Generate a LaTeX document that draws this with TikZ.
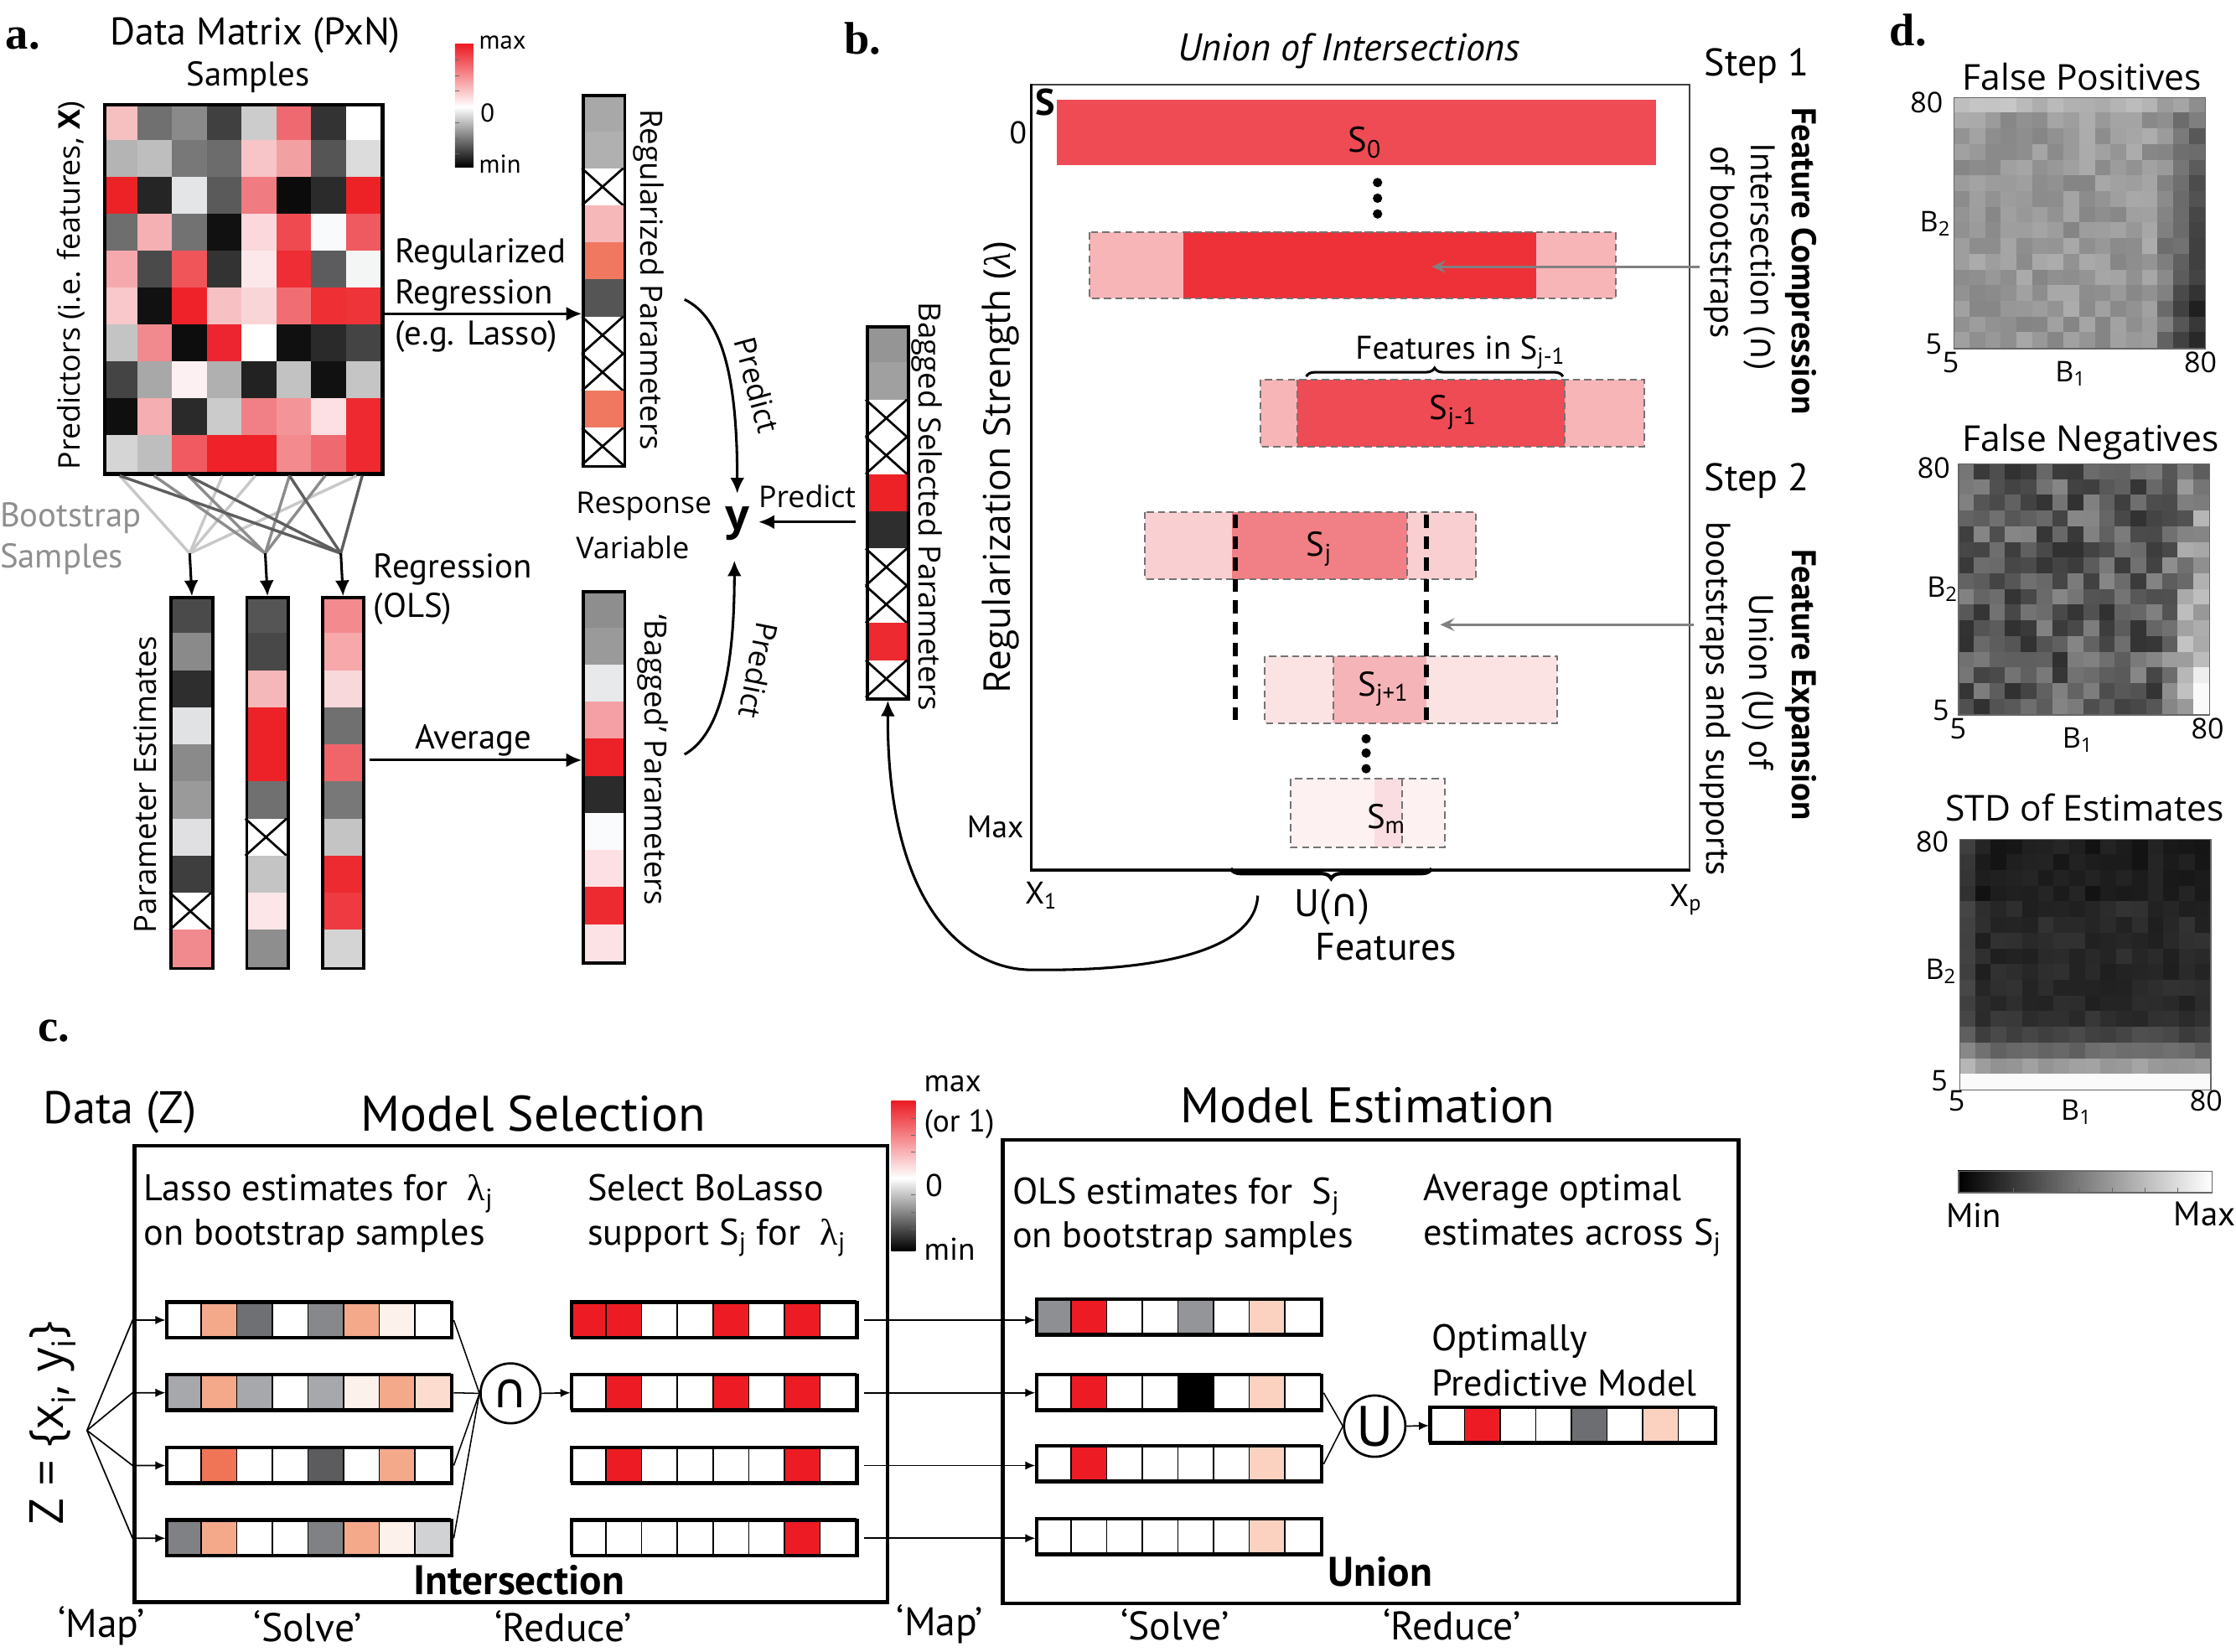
\documentclass[tikz,border=0pt]{standalone}
\usepackage{fontspec}
\setmainfont{PT Sans}
\newfontfamily\fw{Open Sans}
\newfontfamily\fser{Liberation Serif}
\newfontfamily\fdv{DejaVu Sans}
\usetikzlibrary{arrows.meta,decorations.pathreplacing,calc}
\newcommand\setfs[1]{\fontsize{#1}{#1}\selectfont}
\def\xmk{X}
\newcommand\vcol[5]{%
  \foreach \cl [count=\kk from 0] in {#5}{%
    \edef\cc{\cl}%
    \ifx\cc\xmk
      \fill[white] ({#2},{#3+\kk*#4}) rectangle +(29,#4);
      \draw[line width=1.6pt] ({#2},{#3+\kk*#4}) -- +(29,#4);
      \draw[line width=1.6pt] ({#2+29},{#3+\kk*#4}) -- +(-29,#4);
    \else
      \edef\tmp{\noexpand\definecolor{tc}{HTML}{\cc}}\tmp
      \fill[tc] ({#2},{#3+\kk*#4}) rectangle +(29,{#4+0.4});
    \fi
  }%
  \node[draw,line width=2.2pt,inner sep=0pt,minimum width=29,minimum height={10*#4},anchor=north west] (#1) at (#2,#3) {};%
}
\newcommand\hrow[5]{%
  \foreach \cl [count=\kk from 0] in {#5}{%
    \edef\tmp{\noexpand\definecolor{tc}{HTML}{\cl}}\tmp
    \filldraw[fill=tc,draw=black,line width=0.9pt] ({#2+\kk*#4},#3) rectangle +(#4,25);
  }%
  \node[draw,line width=2.2pt,inner sep=0pt,minimum width={8*#4},minimum height=25,anchor=north west] (#1) at (#2,#3) {};%
}
\newcommand\hmap[4]{%
  \foreach \hi in {0,...,15}{\foreach \hj in {0,...,15}{%
    \pgfmathsetmacro\vv{max(0.02,min(0.98,#4))}%
    \definecolor{hc}{gray}{\vv}%
    \fill[hc] ({#2+\hi*11},{#3+\hj*11}) rectangle +(11.4,11.4);
  }}%
  \node[draw=black!60,line width=0.8pt,inner sep=0pt,minimum width=176,minimum height=176,anchor=north west] (#1) at (#2,#3) {};%
}
\definecolor{cbred}{HTML}{EC1C24}
\definecolor{lineL}{HTML}{C8C8C8}
\definecolor{lineM}{HTML}{8C8C8C}
\definecolor{lineD}{HTML}{5E5E5E}
\definecolor{s0red}{HTML}{EF4B55}
\definecolor{rdA}{HTML}{EE3038}
\definecolor{pkA}{HTML}{F8B5B8}
\definecolor{pkJ}{HTML}{F9CFD1}
\definecolor{rdJ}{HTML}{F08085}
\definecolor{pkJ1}{HTML}{FBE3E4}
\definecolor{rdJ1}{HTML}{F5B5B8}
\definecolor{pkM}{HTML}{FDF1F2}
\definecolor{rdM}{HTML}{FADDE0}
\definecolor{bsgray}{HTML}{8F8F8F}
\begin{document}
\begin{tikzpicture}[x=1pt,y=-1pt,
  lbl/.style={inner sep=0pt,outer sep=0pt},
  arr/.style={line width=1.8pt,-{Latex[length=11pt,width=10pt]}},
  tarr/.style={line width=1pt,-{Latex[length=7pt,width=6pt]}},
  garr/.style={draw=black!50,line width=1.6pt,-{Stealth[length=10pt,width=9pt,inset=4pt]}},
  dbox/.style={draw=black!55,dash pattern=on 5pt off 3pt,line width=1.1pt},
  vdash/.style={line width=3.5pt,dash pattern=on 9pt off 6pt},
  cbox/.style={inner sep=0pt,outer sep=0pt,anchor=north west}]
\useasboundingbox (0,0) rectangle (1568,1158);
\fill[white] (0,0) rectangle (1568,1158);

% ================= panel a =================
\node[lbl,font=\fser\bfseries\setfs{32}] (pa) at (16,27) {a.};
\node[lbl,font=\setfs{27}] (dmt) at (179,25) {Data Matrix (PxN)};
\node[lbl,font=\setfs{24}] (smp) at (174,54) {Samples};
\foreach \row [count=\ri from 0] in {%
 {F6BFC0,707070,8A8A8A,404040,CCCCCC,EE6A70,333333,FFFFFF},%
 {B4B4B4,BEBEBE,787878,6C6C6C,F7C5C7,F3A0A2,555555,DCDCDC},%
 {EC2227,252525,E3E5E6,5A5A5A,F07B80,0B0B0B,2B2B2B,EC2227},%
 {6E6E6E,F5B0B3,727272,111111,FAD8DC,EE4A50,F8FAFC,EE5A5F},%
 {F5A9AD,4A4A4A,F0555A,333333,FCE8EA,EE2D34,5C5C5E,F4F6F5},%
 {F8C8CA,111111,EE2228,F7C0C2,FAD5D8,F06E73,EE3035,EE3339},%
 {C4C4C4,F08A8E,0D0D0D,EC2530,FFFFFF,101010,2A2A2A,444444},%
 {444444,A8A8A8,FDF0F2,B0B0B0,222222,C2C2C2,111111,C5C5C5},%
 {0F0F0F,F5AEB1,2A2A2A,CBCBCB,F08085,F39598,FCE0E3,EE2A30},%
 {D5D5D5,BEBEBE,F05A60,EE2228,EE2228,F28A8E,EE6A70,EE2A30}}{%
  \foreach \cl [count=\ci from 0] in \row {%
    \edef\tmp{\noexpand\definecolor{tc}{HTML}{\cl}}\tmp
    \fill[tc] ({72+\ci*24.375},{72+\ri*25.9}) rectangle +(24.7,26.2);
  }}
\node[draw,line width=2.6pt,inner sep=0pt,minimum width=195,minimum height=259,anchor=north west] (mat) at (72,72) {};
\node[lbl,rotate=90,font=\fw\setfs{21}] (pred) at (50,200) {Predictors (i.e. features, \textbf{X})};

% colour bar a
\shade[top color=cbred,bottom color=white] (319,31) rectangle (332,75);
\shade[top color=white,bottom color=black] (319,75) rectangle (332,117);
\foreach \t in {42,53,64,86,97,108} \draw[black!60,line width=0.5pt] (319,\t) -- (322,\t);
\node[cbox,minimum width=13,minimum height=86] (cba) at (319,31) {};
\node[lbl,anchor=west,font=\setfs{18}] (cbamax) at (336,30) {max};
\node[lbl,anchor=west,font=\setfs{18}] (cbazero) at (337,79) {0};
\node[lbl,anchor=west,font=\setfs{18}] (cbamin) at (336,115) {min};

% regularized parameters column
\vcol{regcol}{408}{66}{26}{A8A8A8,B0B0B0,X,F7B8B9,F07860,555555,X,X,F07860,X}
\node[lbl,rotate=-90,font=\fw\setfs{21.5}] (regparl) at (455,196) {Regularized Parameters};
\coordinate (ra) at (268,220);
\draw[arr] (ra) -- (regcol.west |- ra);
\node[lbl,anchor=base west,font=\setfs{24}] (rr1) at (277,184) {Regularized};
\node[lbl,anchor=base west,font=\setfs{24}] (rr2) at (277,213) {Regression};
\node[lbl,anchor=base west,font=\setfs{24}] (rr3) at (277,242) {(e.g. Lasso)};

% bootstrap lines
\coordinate (cvL) at (133,388);
\coordinate (cvM) at (186,388);
\coordinate (cvR) at (239,388);
\foreach \o in {12,84,107,178} \draw[lineL,line width=2pt] ($(mat.south west)+(\o,0)$) -- (cvL);
\foreach \o in {36,60,131,156} \draw[lineM,line width=2pt] ($(mat.south west)+(\o,0)$) -- (cvM);
\foreach \o in {12,60,131,182} \draw[lineD,line width=2pt] ($(mat.south west)+(\o,0)$) -- (cvR);
\node[lbl,anchor=west,text=bsgray,font=\setfs{24}] (bs1) at (0,363) {Bootstrap};
\node[lbl,anchor=west,text=bsgray,font=\setfs{24}] (bs2) at (0,392) {Samples};

% parameter estimates
\vcol{pe1}{119}{418}{26}{4A4A4A,8A8A8A,2E2E2E,E0E2E3,8A8A8A,9A9A9A,E0E0E2,3E3E3E,X,F08A8E}
\vcol{pe2}{172}{418}{26}{555555,484848,F5B8BA,EC2228,EC2228,707070,X,C4C4C4,FCE6E8,8E8E8E}
\vcol{pe3}{225}{418}{26}{F28A8E,F6A8AA,F9D8DC,707070,F0656A,787878,C4C4C4,EC2A30,EE3A40,D4D4D4}
\draw[arr] (cvL) -- (pe1.north);
\draw[arr] (cvM) -- (pe2.north);
\draw[arr] (cvR) -- (pe3.north);
\node[lbl,rotate=90,font=\fw\setfs{21.5}] (pel) at (102,550) {Parameter Estimates};
\node[lbl,anchor=west,font=\setfs{24}] (ols1t) at (262,399) {Regression};
\node[lbl,anchor=west,font=\setfs{24}] (ols2t) at (262,427) {(OLS)};

% average
\vcol{bagcol}{408}{414}{26}{8E8E8E,9A9A9A,E8E9EB,F5A0A4,EC2228,2B2B2B,FAFBFD,FCE0E3,EC2A30,FCE2E5}
\node[lbl,rotate=-90,font=\fw\setfs{21.5}] (bagl) at (458,533) {‘Bagged’ Parameters};
\coordinate (av) at (259,533);
\draw[arr] (av) -- (bagcol.west |- av);
\node[lbl,font=\setfs{24}] (avt) at (332,519) {Average};

% response variable
\node[lbl,anchor=west,font=\fw\setfs{21}] (resp1) at (404,355) {Response};
\node[lbl,anchor=west,font=\fw\setfs{21}] (resp2) at (404,384) {Variable};
\node[lbl,font=\fw\bfseries\setfs{30}] (yv) at (517,367) {y};
\coordinate (ytop) at (517,346);
\coordinate (yright) at (532,366);
\coordinate (ybot) at (515,393);
\coordinate (p1s) at (480,210);
\coordinate (p3s) at (480,529);
\draw[arr] (p1s) .. controls (505,222) and (517,260) .. (ytop);
\draw[arr] (p3s) .. controls (505,515) and (515,470) .. (ybot);
\node[lbl,rotate=-75,font=\fw\setfs{21}] (pr1) at (531,270) {Predict};
\node[lbl,rotate=-101,font=\fw\setfs{21}] (pr3) at (532,470) {Predict};
\node[lbl,font=\fw\setfs{21}] (pr2) at (566,348) {Predict};

% bagged selected parameters
\vcol{bselcol}{607}{228}{26.1}{959595,A0A0A0,X,X,EC2227,2E2E2E,X,X,EC2A30,X}
\node[lbl,rotate=-90,font=\fw\setfs{21.5}] (bsell) at (650,355) {Bagged Selected Parameters};
\draw[arr] ($(bselcol.west |- yright)+(-7,0)$) -- (yright);

% ================= panel b =================
\node[lbl,font=\fser\bfseries\setfs{32}] (pb) at (605,27) {b.};
\node[lbl,font=\itshape\setfs{27}] (uoi) at (946,36) {Union of Intersections};
\node[draw=black!75,line width=1.1pt,inner sep=0pt,minimum width=461,minimum height=550,anchor=north west] (plot) at (723,59) {};
\draw[line width=1.8pt] (plot.north west) -- (plot.south west) -- (plot.south east);
\node[lbl,font=\bfseries\setfs{26}] (Slab) at (733,72) {S};
\node[lbl,font=\setfs{22}] (zl) at (714,93) {0};
\node[lbl,font=\setfs{22}] (maxl) at (698,580) {Max};
\node[lbl,font=\setfs{22}] (x1l) at (730,628) {X\textsubscript{1}};
\node[lbl,font=\setfs{22}] (xpl) at (1182,631) {X\textsubscript{p}};
\node[lbl,rotate=90,font=\fw\setfs{26}] (rsl) at (702,328) {Regularization Strength ({\fser\itshape λ})};

% S0
\fill[s0red] (741,70) rectangle (1161,116);
\node[inner sep=0pt,minimum width=420,minimum height=46,anchor=north west] (bar0) at (741,70) {};
\node[lbl,font=\setfs{25}] (s0l) at (957,100) {S\textsubscript{0}};
\foreach \d in {128,139,150} \fill (966,\d) circle (3.3);
% bar A
\fill[pkA] (764,163) rectangle (1133,209);
\fill[rdA] (830,163) rectangle (1077,209);
\draw[dbox] (764,163) rectangle (1133,209);
\draw[dbox] (830,163) -- (1077,163) (830,209) -- (1077,209);
\node[inner sep=0pt,minimum width=369,minimum height=46,anchor=north west] (barA) at (764,163) {};
% S_{j-1}
\fill[pkA] (884,266) rectangle (1153,313);
\fill[s0red] (910,266) rectangle (1097,313);
\draw[dbox] (884,266) rectangle (1153,313);
\draw[dbox] (910,266) -- (910,313) (1097,266) -- (1097,313);
\node[inner sep=0pt,minimum width=269,minimum height=47,anchor=north west] (barJm) at (884,266) {};
\node[lbl,font=\setfs{24}] (sjml) at (1019,289) {S\textsubscript{j-1}};
\draw[decorate,decoration={brace,amplitude=6pt},line width=1.8pt] (916,264) -- (1096,264);
\node[lbl,font=\setfs{23}] (fin) at (1024,247) {Features in S\textsubscript{j-1}};
% S_j
\fill[pkJ] (803,359) rectangle (1035,406);
\fill[rdJ] (864,359) rectangle (987,406);
\draw[dbox] (803,359) rectangle (1035,406);
\draw[dbox] (987,359) -- (987,406);
\node[inner sep=0pt,minimum width=232,minimum height=47,anchor=north west] (barJ) at (803,359) {};
\node[lbl,font=\setfs{24}] (sjl) at (925,385) {S\textsubscript{j}};
% S_{j+1}
\fill[pkJ1] (887,460) rectangle (1092,507);
\fill[rdJ1] (935,460) rectangle (1000,507);
\draw[dbox] (887,460) rectangle (1092,507);
\draw[dbox] (935,460) -- (935,507);
\node[inner sep=0pt,minimum width=205,minimum height=47,anchor=north west] (barJp) at (887,460) {};
\node[lbl,font=\setfs{24}] (sjpl) at (970,483) {S\textsubscript{j+1}};
\foreach \d in {518,528,539} \fill (958,\d) circle (3.3);
% S_m
\fill[pkM] (905,546) rectangle (1013,594);
\fill[rdM] (964,546) rectangle (983,594);
\draw[dbox] (905,546) rectangle (1013,594);
\draw[dbox] (983,546) -- (983,594);
\node[inner sep=0pt,minimum width=108,minimum height=48,anchor=north west] (barM) at (905,546) {};
\node[lbl,font=\setfs{24}] (sml) at (972,574) {S\textsubscript{m}};
% vertical dashed lines
\draw[vdash] (866,361) -- (866,509);
\draw[vdash] (1000,361) -- (1000,509);
% brace under plot
\draw[decorate,decoration={brace,amplitude=7pt},line width=2.5pt] (1004,609) -- (863,609);
\node[lbl,font=\setfs{27}] (unl) at (934,636) {U({\fdv ∩})};
\node[lbl,font=\setfs{27}] (featl) at (972,664) {Features};
% gray arrows
\coordinate (g1s) at (1192,187);
\coordinate (g1e) at (1004,187);
\coordinate (g2s) at (1188,438);
\coordinate (g2e) at (1010,438);
\draw[garr] (g1s) -- (g1e);
\draw[garr] (g2s) -- (g2e);
% right texts
\node[lbl,font=\setfs{27}] (st1) at (1232,46) {Step 1};
\node[lbl,font=\setfs{27}] (st2) at (1232,337) {Step 2};
\node[lbl,rotate=-90,font=\bfseries\setfs{24}] (fcomp) at (1263,183) {Feature Compression};
\node[lbl,rotate=-90,font=\setfs{24}] (inter) at (1234,180) {Intersection ({\fdv ∩})};
\node[lbl,rotate=-90,font=\setfs{24}] (ofb) at (1206,170) {of bootstraps};
\node[lbl,rotate=-90,font=\bfseries\setfs{24}] (fexp) at (1263,480) {Feature Expansion};
\node[lbl,rotate=-90,font=\setfs{24}] (unof) at (1233,478) {Union (U) of};
\node[lbl,rotate=-90,font=\setfs{24}] (bas) at (1203,490) {bootstraps and supports};

% curve from features to bagged selected parameters
\coordinate (cs) at (882,628);
\draw[arr] (cs) .. controls (880,670) and (800,681) .. (727,680) .. controls (680,682) and (622,640) .. (bselcol.south);

% ================= panel d =================
\node[lbl,font=\fser\bfseries\setfs{32}] (pd) at (1338,21) {d.};
\pgfmathsetseed{11}
\node[lbl,font=\fw\setfs{25}] (fpt) at (1460,54) {False Positives};
\hmap{hm1}{1370}{68}{0.6+0.16*(rnd-0.5)-(\hi>12)*(\hi-12)*0.11*(0.4+\hj/15)+(\hj<1)*0.12}
\node[lbl,font=\fw\setfs{25}] (fnt) at (1466,310) {False Negatives};
\hmap{hm2}{1373}{325}{0.36+0.34*(rnd-0.5)+(\hi>12)*(\hi-12)*0.14*(0.2+\hj/12)}
\node[lbl,font=\fw\setfs{25}] (sdt) at (1462,566) {STD of Estimates};
\hmap{hm3}{1374}{588}{0.07+0.08*rnd+(\hj>3)*0.05+(\hj>10)*(\hj-10)*(\hj-10)*0.028+(\hi<1)*0.1+(\hj>14)*0.2}
\foreach \nm/\ya/\yb/\yc/\yd/\xs in {a/72/157/241/254/0,b/328/413/498/511/5,c/590/681/758/772/4}{
  \node[lbl,font=\fw\setfs{20}] (ya\nm) at ({1351+\xs},\ya) {80};
  \node[lbl,font=\fw\setfs{20}] (yb\nm) at ({1357+\xs},\yb) {B\textsubscript{2}};
  \node[lbl,font=\fw\setfs{20}] (yc\nm) at ({1356+\xs},\yc) {5};
  \node[lbl,font=\fw\setfs{20}] (yd\nm) at ({1368+\xs},\yd) {5};
  \node[lbl,font=\fw\setfs{20}] (ye\nm) at ({1452+\xs},{\yd+8}) {B\textsubscript{1}};
  \node[lbl,font=\fw\setfs{20}] (yf\nm) at ({1543+\xs},\yd) {80};
}
\shade[left color=black,right color=white] (1373,821) rectangle (1551,836);
\node[draw=black!60,line width=0.8pt,inner sep=0pt,minimum width=178,minimum height=15,anchor=north west] (cbd) at (1373,821) {};
\foreach \t in {1412,1458,1481,1504,1527} \draw[black!60,line width=0.5pt] (\t,836) -- (\t,833);
\node[lbl,font=\setfs{24}] (minl) at (1384,852) {Min};
\node[lbl,font=\setfs{24}] (maxd) at (1546,851) {Max};

% ================= panel c =================
\node[lbl,font=\fser\bfseries\setfs{32}] (pc) at (38,723) {c.};
\node[lbl,font=\setfs{32}] (dataz) at (84,780) {Data (Z)};
\node[lbl,font=\setfs{35}] (msel) at (374,781) {Model Selection};
\node[lbl,font=\setfs{35}] (mest) at (959,775) {Model Estimation};
\node[draw,line width=2.6pt,inner sep=0pt,minimum width=528,minimum height=320,anchor=north west] (msbox) at (93,802) {};
\node[draw,line width=2.6pt,inner sep=0pt,minimum width=516,minimum height=325,anchor=north west] (mebox) at (702,798) {};
\node[lbl,anchor=base west,font=\setfs{26}] (t1) at (101,842) {Lasso estimates for \ {\fser λ}\textsubscript{j}};
\node[lbl,anchor=base west,font=\setfs{26}] (t2) at (101,873) {on bootstrap samples};
\node[lbl,anchor=base west,font=\setfs{26}] (t3) at (412,842) {Select BoLasso};
\node[lbl,anchor=base west,font=\setfs{26}] (t4) at (412,873) {support S\textsubscript{j} for \ {\fser λ}\textsubscript{j}};
\node[lbl,anchor=base west,font=\setfs{26}] (t5) at (710,844) {OLS estimates for \ S\textsubscript{j}};
\node[lbl,anchor=base west,font=\setfs{26}] (t6) at (710,875) {on bootstrap samples};
\node[lbl,anchor=base west,font=\setfs{26}] (t7) at (998,842) {Average optimal};
\node[lbl,anchor=base west,font=\setfs{26}] (t8) at (998,873) {estimates across S\textsubscript{j}};
\node[lbl,anchor=base west,font=\setfs{26}] (t9) at (1004,947) {Optimally};
\node[lbl,anchor=base west,font=\setfs{26}] (t10) at (1004,979) {Predictive Model};

\hrow{la1}{116}{912}{25}{FFFFFF,F4A98B,6F7073,FFFFFF,87888B,F4A98B,FDF1EC,FFFFFF}
\hrow{la2}{116}{963}{25}{A7A8AB,F4A98B,A7A8AB,FFFFFF,A7A8AB,FDF1EC,F4A98B,FCDCCF}
\hrow{la3}{116}{1014}{25}{FFFFFF,F07456,FFFFFF,FFFFFF,5C5C5E,FFFFFF,F4A98B,FFFFFF}
\hrow{la4}{116}{1065}{25}{808184,F4A98B,FFFFFF,FFFFFF,808184,F4A98B,FDF1EC,D1D2D4}
\hrow{su1}{400}{912}{25}{ED1C24,ED1C24,FFFFFF,FFFFFF,ED1C24,FFFFFF,ED1C24,FFFFFF}
\hrow{su2}{400}{963}{25}{FFFFFF,ED1C24,FFFFFF,FFFFFF,ED1C24,FFFFFF,ED1C24,FFFFFF}
\hrow{su3}{400}{1014}{25}{FFFFFF,ED1C24,FFFFFF,FFFFFF,FFFFFF,FFFFFF,ED1C24,FFFFFF}
\hrow{su4}{400}{1065}{25}{FFFFFF,FFFFFF,FFFFFF,FFFFFF,FFFFFF,FFFFFF,ED1C24,FFFFFF}
\hrow{ols1}{726}{910}{25}{8E8F92,ED1C24,FFFFFF,FFFFFF,939598,FFFFFF,FBD2C0,FFFFFF}
\hrow{ols2}{726}{963}{25}{FFFFFF,ED1C24,FFFFFF,FFFFFF,000000,FFFFFF,FBD2C0,FFFFFF}
\hrow{ols3}{726}{1013}{25}{FFFFFF,ED1C24,FFFFFF,FFFFFF,FFFFFF,FFFFFF,FBD2C0,FFFFFF}
\hrow{ols4}{726}{1064}{25}{FFFFFF,FFFFFF,FFFFFF,FFFFFF,FFFFFF,FFFFFF,FBD2C0,FFFFFF}
\hrow{finr}{1002}{986}{25}{FFFFFF,ED1C24,FFFFFF,FFFFFF,6D6E71,FFFFFF,FBD2C0,FFFFFF}

% Z fan
\node[lbl,rotate=90,font=\fw\setfs{33}] (zl) at (37,998) {Z = \{x\textsubscript{i}, y\textsubscript{i}\}};
\coordinate (zf) at (61,1003);
\foreach \r in {la1,la2,la3,la4} \draw[tarr] (zf) -- (\r.west -| msbox.west) -- (\r.west);
% intersection
\node[draw,circle,line width=1.6pt,minimum size=42,inner sep=0pt,font=\fdv\setfs{34}] (capc) at (358,977) {∩};
\foreach \r in {la1,la2,la3,la4} \draw[line width=0.9pt] (\r.east) -- (capc.west);
\draw[tarr] (capc.east) -- (su2.west);
\foreach \r/\o in {su1/ols1,su2/ols2,su3/ols3,su4/ols4} \draw[tarr,shorten <=4pt] (\r.east) -- (\r.east -| \o.west);
% union
\node[draw,circle,line width=1.6pt,minimum size=43,inner sep=0pt,font=\setfs{40}] (cupc) at (964,1000) {U};
\foreach \r in {ols2,ols3} \draw[line width=0.9pt] (\r.east) -- (cupc.west);
\draw[tarr] (cupc.east) -- (finr.west);
\node[lbl,font=\bfseries\setfs{29}] (unionl) at (968,1102) {Union};
\node[lbl,font=\bfseries\setfs{29}] (interl) at (364,1108) {Intersection};
% colour bar c
\shade[top color=cbred,bottom color=white] (625,772) rectangle (642,826);
\shade[top color=white,bottom color=black] (625,826) rectangle (642,877);
\foreach \t in {784,796,808,838,850,862} \draw[black!60,line width=0.5pt] (642,\t) -- (639,\t);
\node[cbox,minimum width=17,minimum height=105] (cbc) at (625,772) {};
\node[lbl,anchor=west,font=\setfs{22}] (cbcmax) at (648,760) {max};
\node[lbl,anchor=west,font=\setfs{22}] (cbcor) at (648,788) {(or 1)};
\node[lbl,anchor=west,font=\setfs{22}] (cbczero) at (649,831) {0};
\node[lbl,anchor=west,font=\setfs{22}] (cbcmin) at (648,876) {min};
% bottom labels
\node[lbl,font=\setfs{28}] (m1) at (71,1140) {‘Map’};
\node[lbl,font=\setfs{28}] (s1) at (216,1140) {‘Solve’};
\node[lbl,font=\setfs{28}] (r1) at (395,1140) {‘Reduce’};
\node[lbl,font=\setfs{28}] (m2) at (659,1139) {‘Map’};
\node[lbl,font=\setfs{28}] (s2) at (824,1139) {‘Solve’};
\node[lbl,font=\setfs{28}] (r2) at (1018,1139) {‘Reduce’};
\end{tikzpicture}
\end{document}
